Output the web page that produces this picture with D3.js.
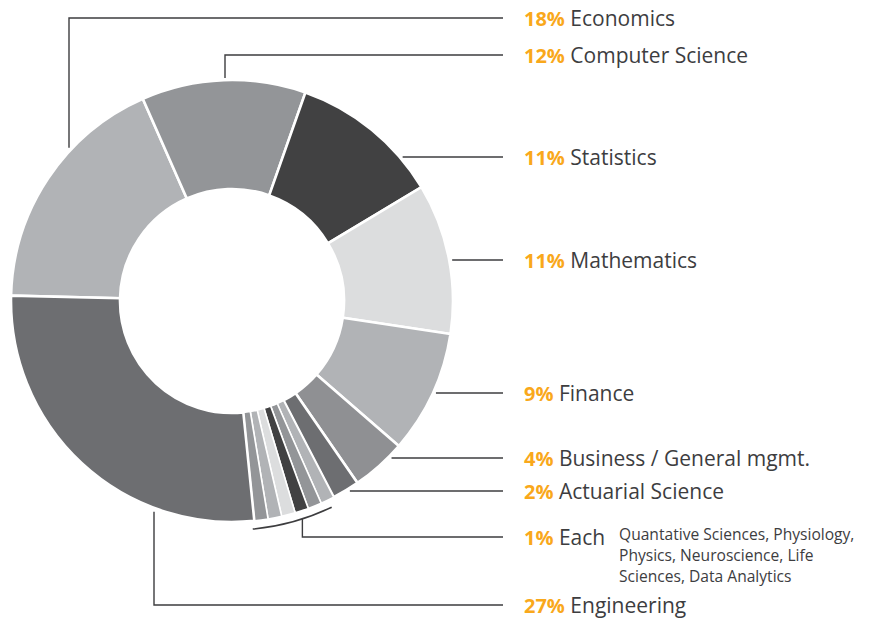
<!DOCTYPE html>
<html>
<head>
<meta charset="utf-8">
<script src="https://cdn.jsdelivr.net/npm/d3@7"></script>
<style>
  body { margin: 0; background: #fff; }
  text { font-family: "Open Sans", Lato, sans-serif; }
</style>
</head>
<body>
<div id="chart"></div>
<script>
// data
var categories = ["Economics", "Computer Science", "Statistics", "Mathematics", "Finance",
    "Business / General mgmt.", "Actuarial Science",
    "Quantative Sciences", "Physiology", "Physics", "Neuroscience", "Life Sciences", "Data Analytics",
    "Engineering"];
var values = [18, 12, 11, 11, 9, 4, 2, 1, 1, 1, 1, 1, 1, 27];
var fills = ["#b1b3b6", "#939598", "#414142", "#dcddde", "#b1b3b6", "#8f9093", "#6d6e71",
    "#b1b3b6", "#939598", "#414142", "#dcddde", "#b1b3b6", "#939598", "#6d6e71"];

// labels on the right (percent, text)
var labelPct = ["18%", "12%", "11%", "11%", "9%", "4%", "2%", "1%", "27%"];
var labelText = ["Economics", "Computer Science", "Statistics", "Mathematics", "Finance",
    "Business / General mgmt.", "Actuarial Science", "Each", "Engineering"];
var eachNote = ["Quantative Sciences, Physiology,", "Physics, Neuroscience, Life", "Sciences, Data Analytics"];

var width = 873, height = 621;
var cx = 232, cy = 301, outerR = 221, innerR = 112;
var lineEnd = 503, textX = 524;

var svg = d3.select("#chart").append("svg")
    .attr("width", width)
    .attr("height", height);

var start = -88.6 * Math.PI / 180;
var pie = d3.pie().sort(null).value(function (d) { return d; })
    .startAngle(start).endAngle(start + 2 * Math.PI);
var arcs = pie(values);

var arc = d3.arc().innerRadius(innerR).outerRadius(outerR);

var g = svg.append("g").attr("transform", "translate(" + cx + "," + cy + ")");

g.selectAll("path.slice")
    .data(arcs)
    .enter().append("path")
    .attr("class", "slice")
    .attr("d", arc)
    .style("fill", function (d, i) { return fills[i]; })
    .style("stroke", "#fff")
    .style("stroke-width", function (d) { return d.value < 2 ? 1.6 : 2.6; });

// leader lines
var line = d3.line();
var lineColor = "#3d3d3f";

function arcX(y) { return cx + Math.sqrt(outerR * outerR - (y - cy) * (y - cy)); }
function arcYTop(x) { return cy - Math.sqrt(outerR * outerR - (x - cx) * (x - cx)); }
function arcYBottom(x) { return cy + Math.sqrt(outerR * outerR - (x - cx) * (x - cx)); }

// one-percent group
var small = arcs.filter(function (d) { return d.value === 1; });
var gStart = small[0].startAngle, gEnd = small[small.length - 1].endAngle;
var bracketR = outerR + 8;
var midA = (gStart + gEnd) / 2 - 1.3 * Math.PI / 180;
var bx = cx + bracketR * Math.sin(midA), by = cy - bracketR * Math.cos(midA);

var labelY = [18, 55, 157, 260, 393, 458, 491, 537, 605];
var leaders = [
    [[69, arcYTop(69) - 4], [69, labelY[0]], [lineEnd, labelY[0]]],
    [[225, arcYTop(225) - 2], [225, labelY[1]], [lineEnd, labelY[1]]],
    [[arcX(labelY[2]) + 3, labelY[2]], [lineEnd, labelY[2]]],
    [[arcX(labelY[3]) + 3, labelY[3]], [lineEnd, labelY[3]]],
    [[arcX(labelY[4]) + 3, labelY[4]], [lineEnd, labelY[4]]],
    [[arcX(labelY[5]) + 4, labelY[5]], [lineEnd, labelY[5]]],
    [[arcX(labelY[6]) + 5, labelY[6]], [lineEnd, labelY[6]]],
    [[bx, by], [bx, labelY[7]], [lineEnd, labelY[7]]],
    [[154, arcYBottom(154) + 4], [154, labelY[8]], [lineEnd, labelY[8]]]
];

svg.selectAll("path.leader")
    .data(leaders)
    .enter().append("path")
    .attr("class", "leader")
    .attr("d", line)
    .style("fill", "none")
    .style("stroke", lineColor)
    .style("stroke-width", 1.4);

// bracket under the 1% slices
g.append("path")
    .attr("d", d3.arc().innerRadius(bracketR).outerRadius(bracketR)
        .startAngle(gStart + 1.6 * Math.PI / 180).endAngle(gEnd + 0.6 * Math.PI / 180)())
    .style("fill", "none")
    .style("stroke", lineColor)
    .style("stroke-width", 1.6);

// labels
var labels = svg.selectAll("text.label")
    .data(labelPct)
    .enter().append("text")
    .attr("class", "label")
    .attr("x", textX)
    .attr("y", function (d, i) { return labelY[i] + 8; })
    .style("font-size", "21px")
    .style("fill", lineColor);

labels.append("tspan")
    .text(function (d) { return d; })
    .style("font-size", "20px")
    .style("font-weight", "bold")
    .style("fill", "#f9a81b");

labels.append("tspan")
    .text(function (d, i) { return " " + labelText[i]; });

svg.selectAll("text.note")
    .data(eachNote)
    .enter().append("text")
    .attr("class", "note")
    .attr("x", 619)
    .attr("y", function (d, i) { return 540 + i * 21; })
    .style("font-size", "15.6px")
    .style("fill", lineColor)
    .text(function (d) { return d; });
</script>
</body>
</html>
